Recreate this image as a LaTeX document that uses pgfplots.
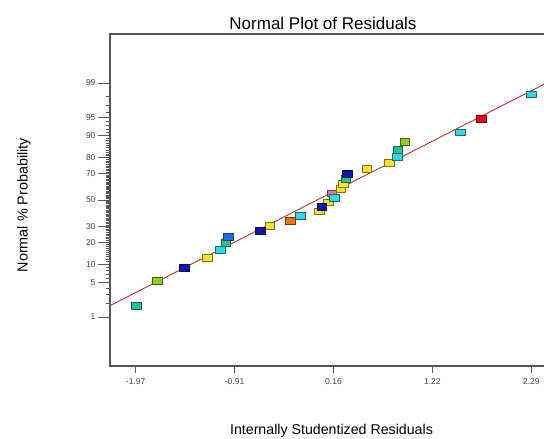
\documentclass[border=0pt]{standalone}
\usepackage{pgfplots}
\pgfplotsset{compat=1.18}
\usepackage{fontspec}
\setmainfont{Liberation Sans}

% marker colours
\definecolor{cTeal}{RGB}{40,190,160}
\definecolor{cYG}{RGB}{140,205,40}
\definecolor{cNavy}{RGB}{20,20,170}
\definecolor{cYel}{RGB}{245,225,50}
\definecolor{cCyan}{RGB}{50,215,225}
\definecolor{cGrn}{RGB}{40,200,130}
\definecolor{cBlu}{RGB}{30,110,230}
\definecolor{cOrg}{RGB}{240,110,20}
\definecolor{cRed}{RGB}{225,15,20}
\definecolor{cPink}{RGB}{230,120,140}
\definecolor{lineRed}{RGB}{185,65,60}
\definecolor{axGray}{RGB}{85,85,85}

\pgfplotsset{
  pt/.style={only marks, mark=square*, mark size=3.4pt,
    mark options={xscale=1.45, fill=#1, draw=#1!50!black, line width=0.6pt}},
}

\begin{document}
\begin{tikzpicture}
\clip (0pt,0pt) rectangle (544pt,-439pt);

\begin{axis}[
    at={(110pt,-366pt)},
    anchor=south west,
    width=447pt, height=332pt,
    scale only axis,
    xmin=-2.246, xmax=2.566,
    ymin=-3.3, ymax=3.3,
    axis line style={axGray, line width=1.1pt},
    tick style={axGray, line width=0.8pt},
    tick align=outside,
    xtick pos=bottom, ytick pos=left,
    major tick length=7pt,
    minor tick length=4.5pt,
    xtick={-1.97,-0.905,0.16,1.225,2.29},
    xticklabels={-1.97,-0.91,0.16,1.22,2.29},
    % normal quantiles of the percent scale
    ytick={-2.3263,-1.6449,-1.2816,-0.8416,-0.5244,0,0.5244,0.8416,1.2816,1.6449,2.3263},
    yticklabels={1,5,10,20,30,50,70,80,90,95,99},
    extra y ticks={-2.3263,-1.6449,-1.2816,-0.8416,-0.5244,0,0.5244,0.8416,1.2816,1.6449,2.3263},
    extra y tick labels={},
    extra y tick style={major tick length=12pt},
    minor ytick={-2.0537,-1.8808,-1.7507,
      -1.5548,-1.4758,-1.4051,-1.3408,
      -1.2265,-1.1750,-1.1264,-1.0803,-1.0364,-0.9945,-0.9542,-0.9154,-0.8779,
      -0.8064,-0.7722,-0.7388,-0.7063,-0.6745,-0.6433,-0.6128,-0.5828,-0.5534,
      -0.4959,-0.4677,-0.4399,-0.4125,-0.3853,-0.3585,-0.3319,-0.3055,-0.2793,-0.2533,
      -0.2275,-0.2019,-0.1764,-0.1510,-0.1257,-0.1004,-0.0753,-0.0502,-0.0251,
      0.0251,0.0502,0.0753,0.1004,0.1257,0.1510,0.1764,0.2019,0.2275,
      0.2533,0.2793,0.3055,0.3319,0.3585,0.3853,0.4125,0.4399,0.4677,0.4959,
      0.5534,0.5828,0.6128,0.6433,0.6745,0.7063,0.7388,0.7722,0.8064,
      0.8779,0.9154,0.9542,0.9945,1.0364,1.0803,1.1264,1.1750,1.2265,
      1.3408,1.4051,1.4758,1.5548,
      1.7507,1.8808,2.0537},
    tick label style={font=\fontsize{8.5}{10}\selectfont, black!75,
      /pgf/number format/assume math mode=true},
    xticklabel style={yshift=-2pt},
    yticklabel style={xshift=-4pt},
    clip=false,
]
  % fitted line
  \addplot[lineRed, line width=1pt] coordinates {(-2.246,-2.100) (2.566,2.433)};

  % residuals (x) against normal quantile of rank (y), n = 28
  \addplot[pt=cPink] coordinates {(0.142,0.134)};
  \addplot[pt=cYel] coordinates {
    (-1.203,-1.150) (-0.525,-0.514) (0.004,-0.226) (0.102,-0.045)
    (0.239,0.226) (0.263,0.319) (0.518,0.619) (0.758,0.732)};
  \addplot[pt=cTeal] coordinates {(-1.967,-2.100) (0.852,0.992)};
  \addplot[pt=cYG] coordinates {(-1.733,-1.611) (0.927,1.150)};
  \addplot[pt=cGrn] coordinates {(-0.999,-0.854) (0.292,0.414)};
  \addplot[pt=cCyan] coordinates {
    (-1.056,-0.992) (-0.199,-0.319) (0.166,0.045) (0.844,0.854)
    (1.529,1.345) (2.29,2.100)};
  \addplot[pt=cOrg] coordinates {(-0.303,-0.414)};
  \addplot[pt=cBlu] coordinates {(-0.974,-0.732)};
  \addplot[pt=cNavy] coordinates {
    (-1.447,-1.345) (-0.625,-0.619) (0.034,-0.134) (0.308,0.514)};
  \addplot[pt=cRed] coordinates {(1.755,1.611)};
\end{axis}

\node[anchor=base, font=\fontsize{17}{20}\selectfont] at (323pt,-29.5pt) {Normal Plot of Residuals};
\node[anchor=base, font=\fontsize{14.2}{17}\selectfont] at (331.5pt,-434.5pt) {Internally Studentized Residuals};
\node[anchor=base, rotate=90, font=\fontsize{14.4}{17}\selectfont] at (27.5pt,-205pt) {Normal \% Probability};
\end{tikzpicture}
\end{document}
